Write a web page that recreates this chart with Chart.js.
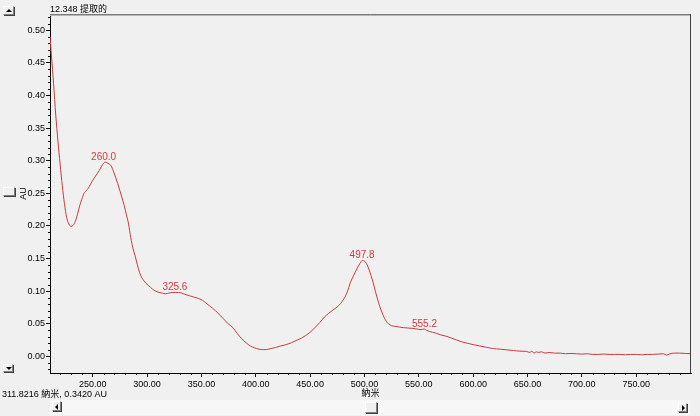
<!DOCTYPE html>
<html><head><meta charset="utf-8">
<script src="https://cdn.jsdelivr.net/npm/chart.js@4"></script>
<style>
html,body{margin:0;padding:0;background:#f0f0f0;}
#wrap{position:relative;width:700px;height:416px;overflow:hidden;background:#f0f0f0;}
canvas{position:absolute;left:0;top:0;}
.btn{position:absolute;box-sizing:border-box;background:#f0f0f0;border:1px solid;border-color:#ffffff #808080 #808080 #ffffff;box-shadow:1px 1px 0 #404040;}
.tri{position:absolute;width:0;height:0;}
.track{position:absolute;background:#f7f7f7;}
</style></head>
<body><div id="wrap">
<canvas id="c" width="700" height="416"></canvas>
<div class="track" style="left:50px;top:400px;width:640px;height:15px;"></div>
<div class="btn" style="left:3px;top:6px;width:11px;height:9px;"><div class="tri" style="left:2px;top:2px;border-left:3px solid transparent;border-right:3px solid transparent;border-bottom:3px solid #000;"></div></div>
<div class="btn" style="left:3px;top:364px;width:10px;height:8px;"><div class="tri" style="left:2px;top:2px;border-left:3px solid transparent;border-right:3px solid transparent;border-top:3px solid #000;"></div></div>
<div class="btn" style="left:3px;top:187px;width:12px;height:9px;"></div>
<div class="btn" style="left:52px;top:401px;width:9px;height:10px;"><div class="tri" style="left:2px;top:2px;border-top:3px solid transparent;border-bottom:3px solid transparent;border-right:3px solid #000;"></div></div>
<div class="btn" style="left:365px;top:402px;width:12px;height:11px;"></div>
<div class="btn" style="left:678px;top:403px;width:9px;height:9px;"><div class="tri" style="left:3px;top:1px;border-top:3px solid transparent;border-bottom:3px solid transparent;border-left:3px solid #000;"></div></div>
</div>
<script>
// ---- data ----
const wavelengthNm = [210.7,212,214,216,218,220,222,224,226,228,230,232,234,236,238,240,242,244,246,248,250,252,254,256,258,260,261.5,263,265,267,269,271,273,275,277,279,281,283,285,287,289,291,293,295,297,299,301,303,305,308,311,314,317,320,323,326,329,332,335,339,343,347,351,354,357,360,363,366,370,374,379,383,387,391,395,399,403,407,410,414,418,423,428,433,438,442,446,450,455,459,463,467,471,475,478,481,484,487,490,493,496,498,500,502,504,506,508,510,512,514,516,518,520,522,525,528,532,536,540,544,548,552,555,557,560,565,570,575,580,585,590,595,600,606,612,618,625,631,637,643,649,652,654,656,658,660,663,666,670,675,680,685,690,695,700,705,710,715,720,725,730,735,740,745,750,755,760,765,770,775,778,781,785,790,795,800.4];
const absorbanceAU = [0.490,0.462,0.418,0.370,0.330,0.295,0.262,0.234,0.213,0.203,0.1995,0.201,0.207,0.218,0.231,0.241,0.250,0.254,0.258,0.264,0.270,0.275,0.280,0.285,0.291,0.296,0.298,0.297,0.295,0.292,0.284,0.275,0.265,0.254,0.243,0.231,0.217,0.203,0.182,0.166,0.154,0.141,0.129,0.121,0.116,0.112,0.109,0.106,0.103,0.100,0.098,0.097,0.096,0.097,0.098,0.098,0.098,0.097,0.095,0.093,0.091,0.089,0.086,0.082,0.078,0.074,0.070,0.065,0.058,0.051,0.044,0.035,0.027,0.021,0.016,0.013,0.011,0.0103,0.0105,0.012,0.0135,0.016,0.018,0.021,0.025,0.028,0.032,0.037,0.045,0.052,0.060,0.066,0.071,0.076,0.081,0.088,0.098,0.113,0.124,0.134,0.143,0.147,0.146,0.142,0.134,0.124,0.113,0.100,0.088,0.077,0.068,0.060,0.054,0.050,0.047,0.046,0.045,0.044,0.0435,0.043,0.042,0.041,0.042,0.040,0.038,0.036,0.033,0.031,0.028,0.025,0.022,0.020,0.018,0.016,0.014,0.012,0.011,0.010,0.009,0.008,0.0077,0.006,0.008,0.005,0.007,0.006,0.007,0.005,0.006,0.005,0.005,0.004,0.0045,0.004,0.0035,0.004,0.003,0.003,0.0035,0.003,0.003,0.003,0.0025,0.003,0.003,0.0025,0.003,0.003,0.0035,0.004,0.002,0.004,0.005,0.005,0.0045,0.004];
const xTickValues = [250,300,350,400,450,500,550,600,650,700,750];
const yTickValues = [0,0.05,0.10,0.15,0.20,0.25,0.30,0.35,0.40,0.45,0.50];
const peakNm = [260.0,325.6,497.8,555.2];
const peakAU = [0.298,0.098,0.147,0.041];
const peakLabels = ['260.0','325.6','497.8','555.2'];
const titleText = '12.348 提取的';
const statusText = '311.8216 納米, 0.3420 AU';
const xAxisTitle = '納米';
const yAxisTitle = 'AU';
const xRange = [210.7, 800.4];
const yRange = [-0.0255, 0.525];

// ---- chart ----
const FAMILY = "'Liberation Sans', Arial, 'Noto Sans CJK TC', sans-serif";
const LINE = '#c43c3c';
const LABEL = '#d23a3a';

const decor = {
  id: 'decor',
  afterDraw(chart) {
    const {ctx, chartArea: a, scales: {x, y}} = chart;
    ctx.save();
    // frame top/right
    ctx.lineWidth = 1;
    ctx.strokeStyle = '#7a7a7a';
    ctx.beginPath(); ctx.moveTo(a.left, a.top + 0.5); ctx.lineTo(a.right, a.top + 0.5); ctx.stroke();
    ctx.strokeStyle = '#b8b8b8';
    ctx.beginPath(); ctx.moveTo(a.left, a.top + 1.5); ctx.lineTo(a.right - 1, a.top + 1.5); ctx.stroke();
    ctx.strokeStyle = '#404040';
    ctx.beginPath(); ctx.moveTo(a.right - 0.5, a.top); ctx.lineTo(a.right - 0.5, a.bottom); ctx.stroke();
    // minor ticks
    ctx.strokeStyle = '#000';
    ctx.beginPath();
    for (let v = 220; v <= 800; v += 10) {
      if (v % 50 === 0) continue;
      const px = Math.round(x.getPixelForValue(v)) + 0.5;
      ctx.moveTo(px, a.bottom); ctx.lineTo(px, a.bottom + 2);
    }
    for (let i = -2; i <= 52; i++) {
      if (i % 5 === 0) continue;
      const py = Math.round(y.getPixelForValue(i / 100)) + 0.5;
      if (py < a.top || py > a.bottom) continue;
      ctx.moveTo(a.left - 2, py); ctx.lineTo(a.left, py);
    }
    ctx.stroke();
    // texts
    ctx.fillStyle = '#000';
    ctx.font = '9px ' + FAMILY;
    ctx.textBaseline = 'middle';
    ctx.textAlign = 'left';
    ctx.fillText(titleText, a.left, 9.5);
    ctx.fillText(statusText, 2, 395);
    // peak labels
    ctx.fillStyle = LABEL;
    ctx.font = '10px ' + FAMILY;
    ctx.textAlign = 'center';
    ctx.textBaseline = 'alphabetic';
    peakNm.forEach((nm, i) => {
      ctx.fillText(peakLabels[i], x.getPixelForValue(nm), y.getPixelForValue(peakAU[i]) - 2.5);
    });
    ctx.restore();
  }
};

new Chart(document.getElementById('c'), {
  type: 'line',
  data: {
    datasets: [{
      data: wavelengthNm.map((w, i) => ({x: w, y: absorbanceAU[i]})),
      borderColor: LINE,
      borderWidth: 1,
      pointRadius: 0,
      fill: false,
      cubicInterpolationMode: 'monotone'
    }]
  },
  options: {
    responsive: false,
    animation: false,
    layout: {padding: {left: 0, right: 9, top: 14, bottom: 0}},
    plugins: {legend: {display: false}, tooltip: {enabled: false}, title: {display: false}},
    scales: {
      x: {
        type: 'linear', min: xRange[0], max: xRange[1],
        afterFit(s) { s.height = 43; },
        afterBuildTicks(s) { s.ticks = xTickValues.map(v => ({value: v})); },
        grid: {drawOnChartArea: false, drawTicks: true, tickLength: 4, tickColor: '#000'},
        border: {color: '#000', width: 1},
        ticks: {padding: 2, maxRotation: 0, autoSkip: false, color: '#000',
          font: {family: FAMILY, size: 9}, callback: v => Number(v).toFixed(2)},
        title: {display: true, text: xAxisTitle, color: '#000', font: {family: FAMILY, size: 9},
          padding: {top: 0, bottom: 17.5}}
      },
      y: {
        type: 'linear', min: yRange[0], max: yRange[1],
        afterFit(s) { s.width = 50; },
        afterBuildTicks(s) { s.ticks = yTickValues.map(v => ({value: v})); },
        grid: {drawOnChartArea: false, drawTicks: true, tickLength: 4, tickColor: '#000'},
        border: {color: '#000', width: 1},
        ticks: {padding: 1, color: '#000', font: {family: FAMILY, size: 9},
          callback: v => Number(v).toFixed(2)},
        title: {display: true, text: yAxisTitle, color: '#000', font: {family: FAMILY, size: 9},
          padding: {top: 18, bottom: 0}}
      }
    }
  },
  plugins: [decor]
});
</script>
</body></html>
